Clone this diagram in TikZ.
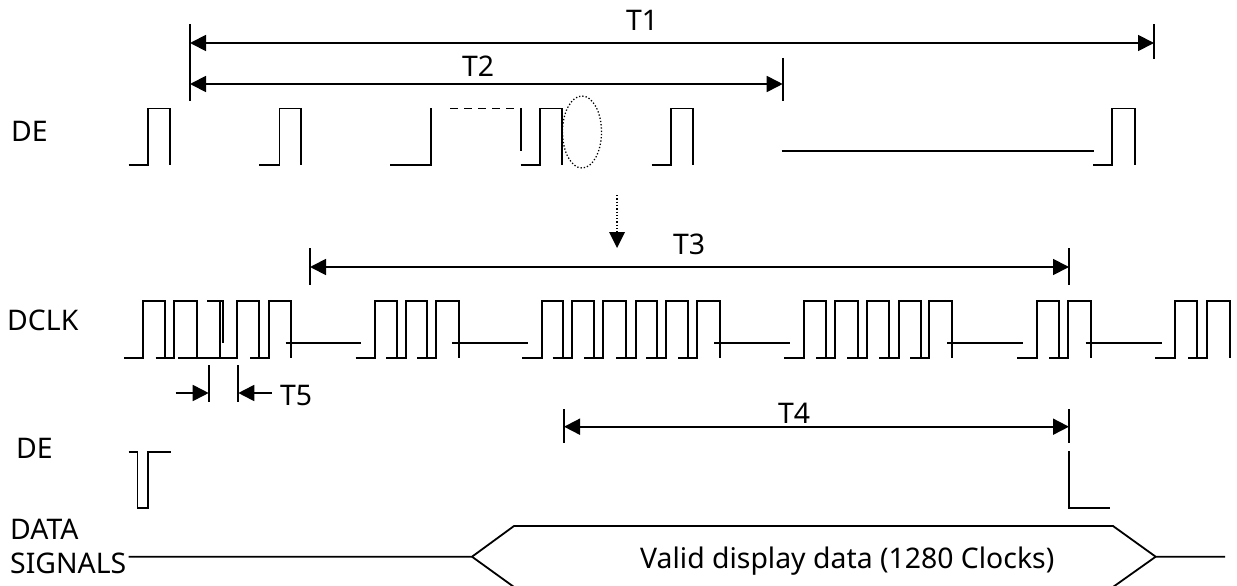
\documentclass[tikz,border=0pt]{standalone}
\usepackage{fontspec}
\setmainfont{Noto Sans}
\usetikzlibrary{arrows.meta,shapes.geometric}
\tikzset{
  wave/.style={line width=1.8pt,line cap=butt,line join=miter},
  dim/.style={line width=1.8pt,{Triangle[length=16pt,width=16pt]}-{Triangle[length=16pt,width=16pt]}},
  onehead/.style={line width=1.8pt,-{Triangle[length=16pt,width=16pt]}},
  tick/.style={line width=1.8pt},
  lbl/.style={inner sep=0pt,anchor=base west,font=\fontsize{28.4pt}{28.4pt}\selectfont,text=black},
}
\begin{document}
\begin{tikzpicture}[x=1pt,y=-1pt]
\useasboundingbox (0,0) rectangle (1237,586);
% upper DE
\foreach \s/\r/\f in {128.5/148/170,259/279.5/301,520.7/540/562,651.7/671/693,1093/1112/1134.7}
  \draw[wave] (\s,165)--(\r,165)--(\r,108.5)--(\f,108.5)--(\f,165);
\draw[wave] (390,165)--(431,165)--(431,108);
\draw[wave,dash pattern=on 8pt off 6pt] (450,108.5)--(520,108.5);
\draw[wave] (521,108)--(521,151);
\draw[wave] (781.5,150.7)--(1094,150.7);
% zoom ellipse and dotted arrow
\node[draw,ellipse,dotted,line width=1.3pt,inner sep=0pt,minimum width=39pt,minimum height=72pt] (zoomring) at (582,132) {};
\coordinate (dotS) at (617,195);
\coordinate (dotE) at (617,248);
\draw[line width=1.3pt,dotted] (dotS)--(617,234);
\draw[onehead,line width=0pt] (617,232)--(dotE);
% DCLK
\foreach \s/\r/\f in {124.3/143.3/165.3,155.7/174/197.3,
  218/237.3/259.3,250/268.7/290.7,
  355.7/375/397.3,386/405.7/427.3,417.3/436/458.7,
  522.3/541.7/563.3,552.7/572/594.3,584/603.3/626,616/635.7/657.3,646/665.7/688.3,678/697.3/719.7,
  784/803.7/825.7,816/835/857.7,847.3/867/889,879.3/898.7/921.3,910/929.3/951.7,
  1017/1036.7/1059,1049/1068.3/1090.7,
  1155.3/1175/1197.3,1188/1207/1229.7}
  \draw[wave] (\s,357.7)--(\r,357.7)--(\r,300.7)--(\f,300.7)--(\f,357.7);
\draw[wave] (178.3,357.7)--(220,357.7)--(220,300.7);
\draw[wave] (207.3,300.7)--(223.3,300.7)--(223.3,343);
\foreach \a/\b in {285.7/361,452.3/528.3,714/790,947.3/1023.3,1085.7/1161.7}
  \draw[wave] (\a,343)--(\b,343);
% lower DE
\draw[wave] (128.6,451.7)--(137.5,451.7)--(137.5,508)--(148,508)--(148,451.7)--(170.7,451.7);
\draw[wave] (1069,451)--(1069,508)--(1110,508);
% data
\draw[wave] (128.6,556.7)--(472,556.7)--(514,526)--(1113,526)--(1155.7,556.7)--(1225,556.7);
\draw[wave] (472,556.7)--(514,587);
\draw[wave] (1155.7,556.7)--(1113,587);
% dimension ticks and arrows
\coordinate (t1l) at (190,43); \coordinate (t1r) at (1154,43);
\coordinate (t2l) at (190,84); \coordinate (t2r) at (782.7,84);
\coordinate (t3l) at (310,267); \coordinate (t3r) at (1069,267);
\coordinate (t4l) at (564,426.7); \coordinate (t4r) at (1069,426.7);
\coordinate (t5l) at (208.7,393); \coordinate (t5r) at (238.3,393);
\draw[tick] (190,24)--(190,101);
\draw[tick] (1154,24.3)--(1154,59);
\draw[tick] (782.7,58)--(782.7,101);
\draw[tick] (310,248)--(310,284.5);
\draw[tick] (1069,248)--(1069,285);
\draw[tick] (564,409)--(564,443);
\draw[tick] (1069,409)--(1069,443);
\draw[tick] (208.7,365)--(208.7,401.7);
\draw[tick] (238.3,365)--(238.3,401.7);
\draw[dim] (t1l)--(t1r);
\draw[dim] (t2l)--(t2r);
\draw[dim] (t3l)--(t3r);
\draw[dim] (t4l)--(t4r);
\coordinate (t5a) at (175.7,393); \coordinate (t5b) at (271.7,393);
\draw[onehead] (t5a)--(t5l);
\draw[onehead] (t5b)--(t5r);
% labels
\node[lbl] (lT1) at (626,31) {T1};
\node[lbl] (lT2) at (462,77) {T2};
\node[lbl] (lT3) at (673,254) {T3};
\node[lbl] (lT4) at (778,423) {T4};
\node[lbl] (lT5) at (280,405) {T5};
\node[lbl] (lDE1) at (11,141.7) {DE};
\node[lbl] (lDCLK) at (7,330) {DCLK};
\node[lbl] (lDE2) at (16,458) {DE};
\node[lbl] (lDATA) at (10,539) {DATA};
\node[lbl] (lSIG) at (10,573) {SIGNALS};
\node[lbl] (lValid) at (640,568) {Valid display data (1280 Clocks)};
\end{tikzpicture}
\end{document}
